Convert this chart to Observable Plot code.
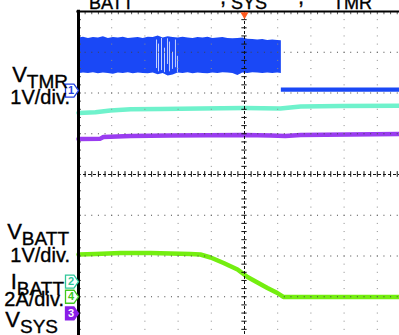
<!DOCTYPE html>
<html><head><meta charset="utf-8">
<script src="https://cdn.jsdelivr.net/npm/d3@7"></script>
<script src="https://cdn.jsdelivr.net/npm/@observablehq/plot@0.6"></script>
<style>
html,body{margin:0;padding:0;background:#fff;}
#chart{width:399px;height:335px;overflow:hidden;position:relative;}
#chart svg{font-family:"Liberation Sans",Arial,sans-serif;overflow:hidden;display:block;}
</style></head><body><div id="chart"></div>
<script>
// ---- data (x in time divisions, y in vertical divisions; centre = 0) ----
const blueX      = [-5, -4.85, -4.7, -4.55, -4.4, -4.25, -4.1, -3.95, -3.8, -3.65, -3.5, -3.35, -3.2, -3.05, -2.9, -2.75, -2.6, -2.45, -2.3, -2.15, -2.0, -1.85, -1.7, -1.55, -1.4, -1.25, -1.1, -0.95, -0.8, -0.65, -0.5, -0.35, -0.2, -0.05, 0.1, 0.25, 0.4, 0.55, 0.7, 0.85, 1.0, 1.11];
const blueTop    = [3.35, 3.37, 3.34, 3.36, 3.35, 3.38, 3.34, 3.36, 3.35, 3.37, 3.34, 3.35, 3.36, 3.34, 3.37, 3.36, 3.40, 3.35, 3.38, 3.36, 3.35, 3.37, 3.35, 3.34, 3.36, 3.35, 3.37, 3.34, 3.35, 3.36, 3.34, 3.33, 3.34, 3.35, 3.32, 3.31, 3.30, 3.31, 3.29, 3.30, 3.29, 3.28];
const blueBottom = [2.47, 2.49, 2.48, 2.50, 2.47, 2.49, 2.48, 2.46, 2.49, 2.48, 2.50, 2.47, 2.49, 2.48, 2.47, 2.49, 2.45, 2.48, 2.42, 2.44, 2.49, 2.48, 2.50, 2.47, 2.49, 2.48, 2.47, 2.49, 2.48, 2.50, 2.49, 2.48, 2.43, 2.49, 2.48, 2.50, 2.49, 2.48, 2.49, 2.48, 2.49, 2.48];
const blueGapX   = [-2.65, -2.59, -2.50, -2.41, -2.32, -2.26, -2.17, -2.08, -2.02];
const blueGapLo  = [2.60, 2.52, 2.55, 2.50, 2.70, 2.52, 2.58, 2.62, 2.50];
const blueGapHi  = [3.30, 3.20, 3.34, 3.10, 3.33, 3.25, 3.00, 3.30, 2.90];
const blueLowX   = [1.11, 5];
const blueLowTop = [2.12, 2.12];
const blueLowBot = [2.02, 2.02];

const cyanX = [-5, -4.49, -4.04, -3.43, -2.53, -1.33, 0, 1.08, 1.69, 2.89, 4.67, 5];
const cyanY = [1.51, 1.53, 1.57, 1.60, 1.61, 1.62, 1.63, 1.62, 1.67, 1.68, 1.69, 1.69];

const purpleX = [-5, -4.34, -4.25, -3.43, -2.23, 0, 0.78, 1.23, 1.69, 4.67, 5];
const purpleY = [0.87, 0.88, 0.92, 0.945, 0.957, 0.969, 0.957, 0.945, 0.969, 0.994, 0.994];

const greenX = [-5, -4.49, -3.73, -2.83, -1.63, -1.33, -1.02, -0.63, -0.21, 0.09, 0.39, 0.69, 0.99, 1.17, 2.29, 4.67, 5];
const greenY = [-1.963, -1.951, -1.926, -1.926, -1.951, -1.963, -2.037, -2.172, -2.331, -2.515, -2.65, -2.785, -2.908, -3.006, -3.006, -3.006, -3.006];

const channelNames = ["1", "2", "4", "3"];
const channelLevels = [2.06, -2.63, -3.0, -3.41];
const triggerX = [0];

const leftMain = ["V", "1V/div.", "V", "1V/div.", "I", "2A/div.", "V"];
const leftSub  = ["TMR", "", "BATT", "", "BATT", "", "SYS"];
const titleMain = ["V", "V", "V"];
const titleSub  = ["BATT", "SYS", "TMR"];
const titleSep  = ["", ",", ","];

// ---- build tables ----
const blue = blueX.map((x, i) => ({x, top: blueTop[i], bottom: blueBottom[i]}));
const blueGaps = blueGapX.map((x, i) => ({x, lo: blueGapLo[i], hi: blueGapHi[i]}));
const blueLow = blueLowX.map((x, i) => ({x, top: blueLowTop[i], bottom: blueLowBot[i]}));
const cyan = cyanX.map((x, i) => ({x, y: cyanY[i]}));
const purple = purpleX.map((x, i) => ({x, y: purpleY[i]}));
const green = greenX.map((x, i) => ({x, y: greenY[i]}));

const chStroke = {"1": "#2340e0", "2": "#2fc79a", "4": "#3fc81e", "3": "#8a1ee8"};
const chFill   = {"1": "#ffffff", "2": "#ffffff", "4": "#ffffff", "3": "#8a1ee8"};
const chText   = {"1": "#2340e0", "2": "#2fc79a", "4": "#3fc81e", "3": "#ffffff"};
const channels = channelNames.map((n, i) => ({n, y: channelLevels[i], stroke: chStroke[n], fill: chFill[n], tc: chText[n]}));

const majorX = [-4, -3, -2, -1, 1, 2, 3, 4];
const majorY = [-3, -2, -1, 1, 2, 3];
const minorX = d3.range(-5, 5.001, 0.2);
const minorY = d3.range(-4, 4.001, 0.2);

const tag = {
  draw(ctx, size) {
    const r = Math.sqrt(size / Math.PI);
    ctx.moveTo(-r, -r);
    ctx.lineTo(r * 0.3, -r);
    ctx.lineTo(r, 0);
    ctx.lineTo(r * 0.3, r);
    ctx.lineTo(-r, r);
    ctx.closePath();
  }
};

const plot = Plot.plot({
  width: 399,
  height: 335,
  margin: 0,
  x: {domain: [-5, 5], range: [78, 410], axis: null},
  y: {domain: [-4, 4], range: [337, 11], axis: null},
  color: {type: "identity"},
  marks: [
    // traces
    Plot.areaY(blue, {x: "x", y1: "bottom", y2: "top", fill: "#1a48f6"}),
    Plot.ruleX(blueGaps, {x: "x", y1: "lo", y2: "hi", stroke: "#ffffff", strokeOpacity: 0.75, strokeWidth: 1}),
    Plot.areaY(blueLow, {x: "x", y1: "bottom", y2: "top", fill: "#1a48f6"}),
    Plot.line(cyan, {x: "x", y: "y", stroke: "#6ff2cc", strokeWidth: 4.5}),
    Plot.line(purple, {x: "x", y: "y", stroke: "#9a3cf0", strokeWidth: 4.5}),
    Plot.line(green, {x: "x", y: "y", stroke: "#74ee10", strokeWidth: 4.5}),
    // graticule
    Plot.ruleX(majorX, {y1: 4, y2: -4, stroke: "#8a8a8a", strokeDasharray: "1,7.15"}),
    Plot.ruleY(majorY, {x1: -5, x2: 5, stroke: "#444", strokeDasharray: "1,5.64"}),
    Plot.ruleX([0], {y1: 4, y2: -4, stroke: "#111", strokeDasharray: "3,2"}),
    Plot.ruleY([0], {x1: -5, x2: 5, stroke: "#111", strokeDasharray: "3,2"}),
    Plot.ruleY(minorY, {x1: -0.08, x2: 0.08, stroke: "#111"}),
    Plot.ruleX(minorX, {y1: -0.07, y2: 0.07, stroke: "#111"}),
    Plot.ruleX(minorX, {y1: 4, y2: 3.92, stroke: "#555"}),
    Plot.ruleY(minorY, {x1: -5, x2: -4.91, stroke: "#555"}),
    // frame
    Plot.ruleY([4], {x1: -5.05, x2: 5, stroke: "#000", strokeWidth: 2}),
    Plot.ruleX([-5], {y1: 4.03, y2: -4, stroke: "#000", strokeWidth: 3}),
    // trigger
    Plot.dot(triggerX, {x: d => d, y: 4, dy: 3, symbol: "triangle", rotate: 180, r: 3, fill: "#ff5a1e", stroke: null}),
    // channel markers
    Plot.dot(channels, {x: -5, y: "y", dx: -6.5, symbol: tag, r: 6.5, stroke: "stroke", fill: "fill", strokeWidth: 1.3}),
    Plot.text(channels, {x: -5, y: "y", dx: -7.5, text: "n", fill: "tc", fontSize: 11, fontWeight: "bold"})
  ]
});

document.getElementById("chart").appendChild(plot);

// ---- text annotations (subscripted), positioned through the y scale ----
const ys = plot.scale("y");
const yAt = v => (ys.apply ? ys.apply(v) : d3.scaleLinear(ys.domain, ys.range)(v));
const svg = d3.select(plot);
const FONT = '"Liberation Sans", Arial, sans-serif';
const leftBaselines = [2.258, 1.718, -1.595, -2.16, -2.822, -3.239, -3.755];
const leftRight = [68, 70, 69, 70, 64, 64, 58];
leftMain.forEach((m, i) => {
  const t = svg.append("text")
    .attr("x", leftRight[i]).attr("y", yAt(leftBaselines[i]))
    .attr("text-anchor", "end").attr("fill", "#000")
    .attr("stroke", "#000").attr("stroke-width", 0.35)
    .style("font-family", FONT);
  if (leftSub[i]) {
    t.append("tspan").attr("font-size", 22).text(m);
    t.append("tspan").attr("font-size", 19).attr("dy", 6).text(leftSub[i]);
  } else {
    t.append("tspan").attr("font-size", 20).text(m);
  }
});
const titleSubX = [89, 231, 333];
const titleSepX = [0, 220, 298];
titleMain.forEach((m, i) => {
  svg.append("text").attr("x", titleSubX[i]).attr("y", -1)
    .attr("text-anchor", "end").attr("font-size", 22).attr("fill", "#000")
    .style("font-family", FONT).text(m);
  svg.append("text").attr("x", titleSubX[i]).attr("y", 8.5)
    .attr("text-anchor", "start").attr("font-size", 18).attr("fill", "#000")
    .attr("stroke", "#000").attr("stroke-width", 0.35)
    .style("font-family", FONT).text(titleSub[i]);
  if (titleSep[i]) {
    svg.append("text").attr("x", titleSepX[i]).attr("y", 4)
      .attr("text-anchor", "start").attr("font-size", 22).attr("fill", "#000")
      .attr("stroke", "#000").attr("stroke-width", 0.35)
      .style("font-family", FONT).text(titleSep[i]);
  }
});
</script></body></html>
